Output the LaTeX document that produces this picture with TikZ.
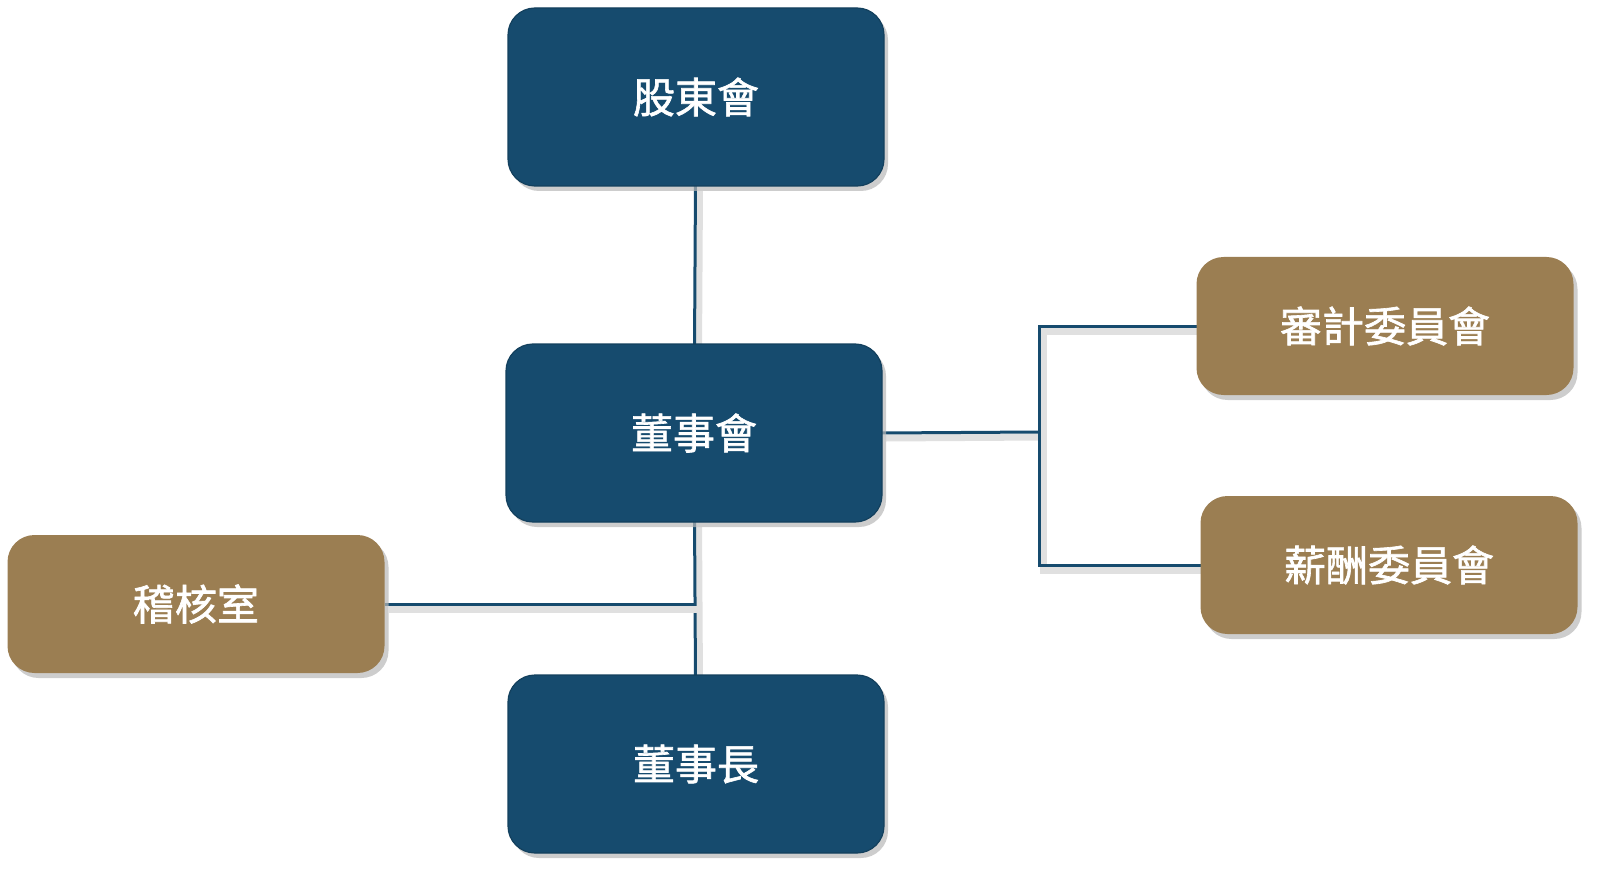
\documentclass[tikz,border=0pt]{standalone}
\usepackage{fontspec}
\newfontfamily\cjk{Noto Sans CJK TC}[FakeBold=1.5]
\usetikzlibrary{positioning,shadows,backgrounds}

\definecolor{boardblue}{HTML}{164B6E}
\definecolor{boardgold}{HTML}{9B7E52}

\begin{document}
\begin{tikzpicture}[x=0.5pt, y=-0.5pt,
  every unit/.style={rounded corners=13.5pt, inner sep=0pt, outer sep=0pt,
    text=white, font=\cjk\fontsize{21pt}{25pt}\selectfont,
    drop shadow={shadow xshift=2pt, shadow yshift=-2.5pt, fill=black!28, opacity=0.7}},
  blue unit/.style={every unit, fill=boardblue, draw=boardblue!85!black, line width=0.6pt,
    minimum width=188pt, minimum height=89pt},
  gold unit/.style={every unit, fill=boardgold, minimum width=188.5pt, minimum height=69pt},
  link/.style={draw=boardblue, line width=1.5pt,
    preaction={draw=black!12, line width=3.5pt, transform canvas={shift={(2pt,-2.5pt)}}}}]

% main line
\foreach \n/\l/\x/\y in {agm/股東會/696/97, board/董事會/694/433, chair/董事長/696/764}
  \node [blue unit] (\n) at (\x,\y) {\l};

% side units
\foreach \n/\l/\x/\y in {audit/稽核室/196/604, auditc/審計委員會/1385/326, paycomm/薪酬委員會/1389/565}
  \node [gold unit] (\n) at (\x,\y) {\l};

\coordinate (fork) at (1039,432);

\begin{scope}[on background layer]
\draw [link] (agm) -- (board);
\draw [link] (board) -- (chair);
\draw [link] (audit.east) -- (audit.east -| board.south);
\draw [link] (board.east) -- (fork);
\draw [link] (auditc.west) -| (fork) |- (paycomm.west);
\end{scope}

\pgfresetboundingbox
\useasboundingbox (0,0) rectangle (1600,877);

\end{tikzpicture}
\end{document}
